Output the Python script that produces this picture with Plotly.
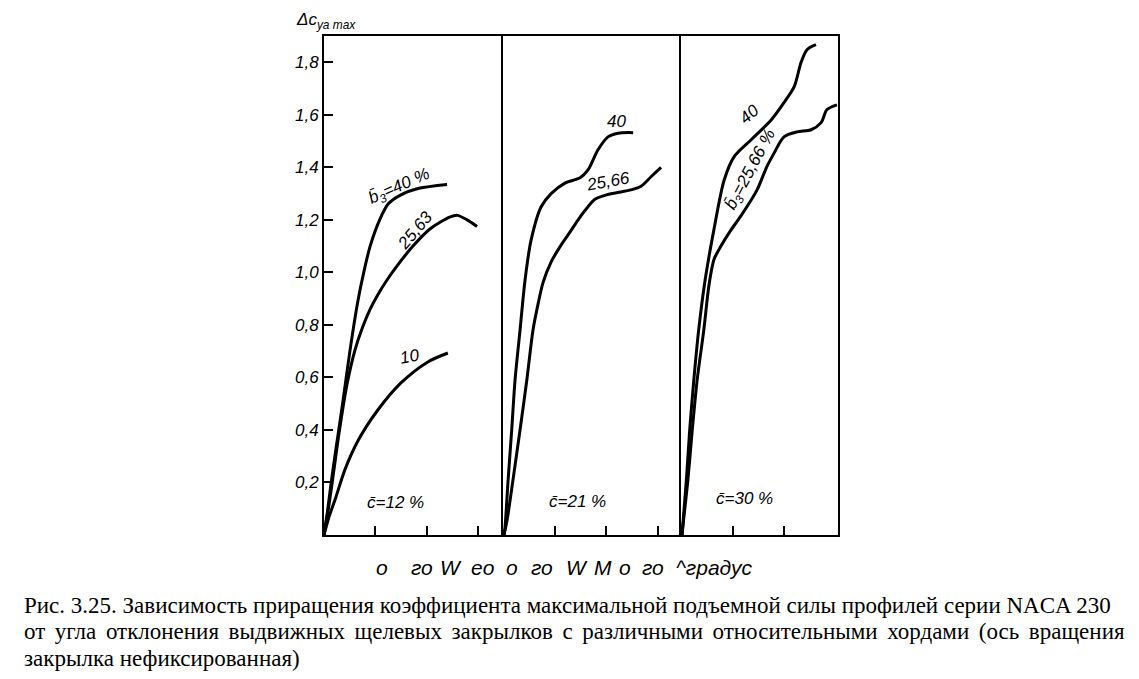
import plotly.graph_objects as go
from plotly.subplots import make_subplots

# panel 1, c = 12 %
p1_b40_x = [0, 1.5, 2.8, 4.7, 7.4, 10.1, 13.2, 15.5, 18, 21.7, 25, 30, 37, 48]
p1_b40_y = [0, 0.10, 0.20, 0.33, 0.51, 0.70, 0.89, 1.0, 1.1, 1.2, 1.26, 1.295, 1.32, 1.335]
p1_b25_x = [0, 1.7, 3.2, 5.9, 8.9, 12.1, 15, 18, 21, 24.5, 28.5, 34.7, 41.3, 49, 52, 55.8, 59.7]
p1_b25_y = [0, 0.10, 0.20, 0.39, 0.57, 0.705, 0.79, 0.86, 0.915, 0.97, 1.025, 1.10, 1.165, 1.21, 1.217, 1.20, 1.175]
p1_b10_x = [0, 2, 4.5, 8.2, 13.3, 21, 30, 40.5, 48.3]
p1_b10_y = [0, 0.07, 0.14, 0.25, 0.36, 0.476, 0.579, 0.659, 0.693]

# panel 2, c = 21 %
p2_b40_x = [0, 0.4, 1.6, 3, 4.3, 6.25, 8.2, 10.5, 14.5, 18.4, 23.8, 29.7, 32.8, 36.7, 40.6, 44.5, 50.4]
p2_b40_y = [0, 0.03, 0.21, 0.40, 0.59, 0.78, 0.97, 1.12, 1.25, 1.30, 1.34, 1.36, 1.39, 1.467, 1.516, 1.53, 1.532]
p2_b25_x = [0, 1.2, 3.5, 6.25, 8.9, 11.3, 13.3, 15.2, 18.4, 22, 26.2, 30, 32.8, 35.5, 40, 45, 50, 53.5, 57.4, 61.3]
p2_b25_y = [0, 0.057, 0.21, 0.40, 0.59, 0.78, 0.88, 0.96, 1.04, 1.10, 1.16, 1.215, 1.25, 1.278, 1.295, 1.305, 1.315, 1.328, 1.364, 1.40]

# panel 3, c = 30 %
p3_b40_x = [0, 0.4, 1.7, 3, 4.6, 6.5, 9, 12.4, 16.4, 20.3, 27, 34.8, 39.8, 43.8, 46.5, 48.8, 52.3]
p3_b40_y = [0, 0.05, 0.21, 0.40, 0.59, 0.78, 0.97, 1.16, 1.35, 1.44, 1.505, 1.58, 1.646, 1.707, 1.80, 1.848, 1.867]
p3_b25_x = [0, 0.6, 2.3, 4, 5.9, 8.5, 10.5, 12.5, 15.2, 19, 23, 29.3, 33, 36, 39.8, 44.9, 50.4, 54.3, 56.6, 60.5]
p3_b25_y = [0, 0.057, 0.21, 0.40, 0.59, 0.78, 0.95, 1.05, 1.10, 1.16, 1.215, 1.314, 1.40, 1.455, 1.516, 1.535, 1.543, 1.57, 1.62, 1.638]

y_ticks = [0.2, 0.4, 0.6, 0.8, 1.0, 1.2, 1.4, 1.6, 1.8]
y_tick_labels = ["0,2", "0,4", "0,6", "0,8", "1,0", "1,2", "1,4", "1,6", "1,8"]

x_tokens = ["о", "го", "W", "ео", "о", "го", "W", "М", "о", "го", "^градус"]
x_token_px = [382, 422, 451, 483, 512, 542, 577, 603, 625, 653, 714]

caption = [
    "Рис. 3.25. Зависимость приращения коэффициента максимальной подъемной силы профилей серии NACA 230",
    "от угла отклонения выдвижных щелевых закрылков с различными относительными хордами (ось вращения",
    "закрылка нефиксированная)",
]

# plot area in reference pixels; the page adds an 8 px body margin
L, R, T, B = 324, 838, 36, 535
PAGE = 8
W, H = 1139 - 2 * PAGE, 679 - 2 * PAGE


def px_x(px):
    return (px - L) / (R - L)


def px_y(py):
    return (B - py) / (B - T)


fig = make_subplots(rows=1, cols=3, horizontal_spacing=0, column_widths=[179, 178, 157])

curves = [
    (p1_b40_x, p1_b40_y, 1), (p1_b25_x, p1_b25_y, 1), (p1_b10_x, p1_b10_y, 1),
    (p2_b40_x, p2_b40_y, 2), (p2_b25_x, p2_b25_y, 2),
    (p3_b40_x, p3_b40_y, 3), (p3_b25_x, p3_b25_y, 3),
]
for xs, ys, c in curves:
    fig.add_trace(go.Scatter(x=xs, y=ys, mode="lines", line=dict(color="black", width=3, shape="spline", smoothing=0.8),
                             showlegend=False, hoverinfo="skip"), row=1, col=c)

x_ranges = [[0, 69.8], [-0.4, 69.1], [-0.4, 60.9]]
x_tick_sets = [[20, 40, 60], [20, 40, 60], [20, 40]]
for c in range(1, 4):
    fig.update_xaxes(range=x_ranges[c - 1], tickvals=x_tick_sets[c - 1], showticklabels=False,
                     ticks="inside", ticklen=9, tickwidth=1.5, tickcolor="black",
                     showline=True, linecolor="black", linewidth=2, mirror=True,
                     showgrid=False, zeroline=False, row=1, col=c)
    fig.update_yaxes(range=[0, 1.9], showline=True, linecolor="black", linewidth=2, mirror=(c == 3),
                     showgrid=False, zeroline=False, row=1, col=c)

fig.update_yaxes(tickvals=y_ticks, ticktext=y_tick_labels, ticks="inside", ticklen=9, tickwidth=1.5,
                 tickcolor="black", ticklabelstandoff=0,
                 tickfont=dict(family="Liberation Sans Narrow, Liberation Sans", size=17, style="italic", color="black"),
                 row=1, col=1)
fig.update_yaxes(showticklabels=False, ticks="", row=1, col=2)
fig.update_yaxes(showticklabels=False, ticks="", row=1, col=3)

lab = dict(family="Liberation Sans Narrow, Liberation Sans", size=17, style="italic", color="black")
notes = [
    ("x", "y", 29.6, 1.326, "b\u0304<sub>3</sub>=40 %", -24),
    ("x", "y", 35.5, 1.16, "25,63", -50),
    ("x", "y", 33.5, 0.68, "10", -10),
    ("x", "y", 27.7, 0.122, "c\u0304=12 %", 0),
    ("x2", "y2", 43.8, 1.573, "40", 0),
    ("x2", "y2", 40.6, 1.345, "25,66", -10),
    ("x2", "y2", 28.5, 0.126, "c\u0304=21 %", 0),
    ("x3", "y3", 26.2, 1.60, "40", -40),
    ("x3", "y3", 27.0, 1.39, "b\u0304<sub>3</sub>=25,66 %", -62),
    ("x3", "y3", 24.2, 0.14, "c\u0304=30 %", 0),
]
for xr, yr, x, y, t, a in notes:
    fig.add_annotation(xref=xr, yref=yr, x=x, y=y, text=t, textangle=a, showarrow=False, font=lab)

fig.add_annotation(xref="paper", yref="paper", x=px_x(294), y=px_y(21), xanchor="left", yanchor="middle",
                   text="\u0394c<sub>ya max</sub>", showarrow=False,
                   font=dict(family="Liberation Sans Narrow, Liberation Sans", size=17, style="italic", color="black"))

for t, p in zip(x_tokens, x_token_px):
    fig.add_annotation(xref="paper", yref="paper", x=px_x(p), y=px_y(567), xanchor="center", yanchor="middle",
                       text=t, showarrow=False,
                       font=dict(family="Liberation Sans, Arial", size=21, style="italic", color="black"))

cap_font = dict(family="Liberation Serif, Times New Roman", size=23, color="black")
for i, line in enumerate(caption):
    txt = line
    if i == 1:
        txt = line.replace(" ", " \u200a\u200a")
    fig.add_annotation(xref="paper", yref="paper", x=px_x(22), y=px_y(605 + i * 26.5), xanchor="left",
                       yanchor="middle", text=txt, showarrow=False, font=cap_font)

fig.update_layout(width=W, height=H,
                  margin=dict(l=L - PAGE, r=W - (R - PAGE), t=T - PAGE, b=H - (B - PAGE)),
                  paper_bgcolor="white", plot_bgcolor="white")

fig.write_html("out.html")
